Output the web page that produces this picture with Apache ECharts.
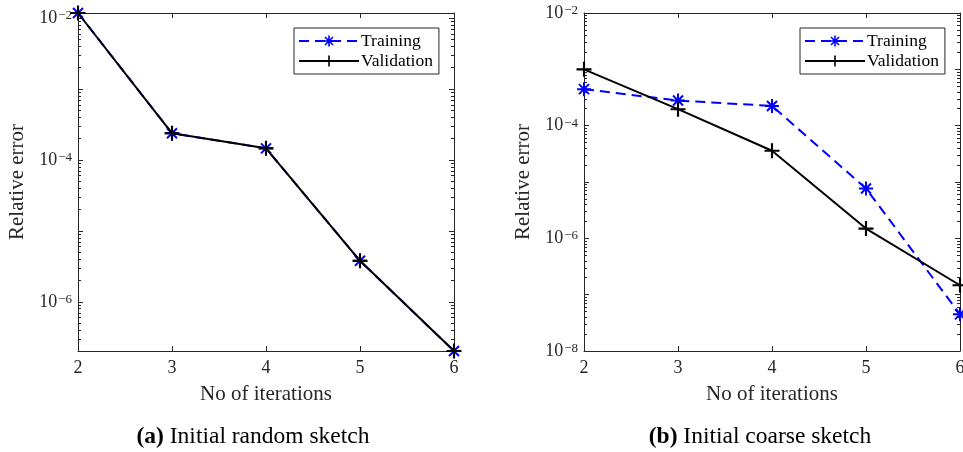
<!DOCTYPE html>
<html>
<head>
<meta charset="utf-8">
<script src="https://cdn.jsdelivr.net/npm/echarts@6/dist/echarts.min.js"></script>
<style>
html,body{margin:0;padding:0;background:#fff;}
#chart{width:963px;height:452px;}
</style>
</head>
<body>
<div id="chart"></div>
<script>
// ---- data ----
var iterations = [2, 3, 4, 5, 6];
var trainA = [1.18e-2, 2.38e-4, 1.46e-4, 3.79e-6, 2.03e-7];
var validA = [1.18e-2, 2.38e-4, 1.46e-4, 3.79e-6, 2.03e-7];
var trainB = [4.45e-4, 2.79e-4, 2.24e-4, 7.69e-6, 4.47e-8];
var validB = [1.0e-3, 1.96e-4, 3.59e-5, 1.49e-6, 1.47e-7];
var seriesNames = ['Training', 'Validation'];
var captions = [['(a)', 'Initial random sketch'], ['(b)', 'Initial coarse sketch']];
var xLabel = 'No of iterations';
var yLabel = 'Relative error';
var minorMultipliers = [2, 3, 4, 5, 6, 7, 8, 9];

var SERIF = '"Liberation Serif","DejaVu Serif",serif';
var AX = '#262626';

var plusPath = 'path://M6,0H8V14H6Z M0,6H14V8H0Z';
var starPath = 'path://M6,0H8V14H6Z M0,6H14V8H0Z M2.7,1.3L12.7,11.3L11.3,12.7L1.3,2.7Z M11.3,1.3L12.7,2.7L2.7,12.7L1.3,11.3Z';

function pairs(xs, ys){ return xs.map(function(x,i){ return [x, ys[i]]; }); }

var grids = [
  {left: 78, top: 13, width: 376, height: 338, legendLeft: 294, capCenter: 248},
  {left: 584, top: 13, width: 376, height: 338, legendLeft: 800, capCenter: 755}
];
var yRanges = [[2.03e-7, 1.18e-2], [1e-8, 1e-2]];

function expFmt(v){
  var l = Math.log10(v);
  var e = Math.round(l);
  if (Math.abs(l - e) > 1e-6) return '';
  if (e % 2 !== 0) return '';
  return '{b|10}{s|' + '\u2212' + Math.abs(e) + '}';
}

var xAxes = [], yAxes = [], series = [], legends = [], titles = [];
var mainYIndex = [];
grids.forEach(function(g, gi){
  xAxes.push({
    type: 'value', gridIndex: gi, min: 2, max: 6, interval: 1, position: 'bottom',
    name: xLabel, nameLocation: 'middle', nameGap: 33,
    nameTextStyle: {fontFamily: SERIF, fontSize: 21, color: AX},
    axisLine: {show: true, onZero: false, lineStyle: {color: AX, width: 1}},
    axisTick: {show: true, inside: true, length: 5, lineStyle: {color: AX}},
    axisLabel: {fontFamily: SERIF, fontSize: 18, color: AX, margin: 8},
    splitLine: {show: false}
  });
  xAxes.push({
    type: 'value', gridIndex: gi, min: 2, max: 6, interval: 1, position: 'top',
    axisLine: {show: true, onZero: false, lineStyle: {color: AX, width: 1}},
    axisTick: {show: true, inside: true, length: 5, lineStyle: {color: AX}},
    axisLabel: {show: false}, splitLine: {show: false}
  });
  mainYIndex.push(yAxes.length);
  yAxes.push({
    type: 'log', logBase: 10, gridIndex: gi, min: yRanges[gi][0], max: yRanges[gi][1], splitNumber: 5,
    position: 'left',
    name: yLabel, nameLocation: 'middle', nameGap: 50, nameRotate: 90,
    nameTextStyle: {fontFamily: SERIF, fontSize: 21, color: AX},
    axisLine: {show: true, onZero: false, lineStyle: {color: AX, width: 1}},
    axisTick: {show: true, inside: true, length: 5, lineStyle: {color: AX}},
    axisLabel: {
      showMinLabel: true, showMaxLabel: true, margin: 6, hideOverlap: false,
      formatter: function(v){ return expFmt(v); },
      rich: {
        b: {fontFamily: SERIF, fontSize: 18, color: AX, verticalAlign: 'bottom', lineHeight: 18},
        s: {fontFamily: SERIF, fontSize: 13, color: AX, verticalAlign: 'top', lineHeight: 13, padding: [0,0,12,1]}
      }
    },
    splitLine: {show: false}
  });
  yAxes.push({
    type: 'log', logBase: 10, gridIndex: gi, min: yRanges[gi][0], max: yRanges[gi][1], splitNumber: 5,
    position: 'right',
    axisLine: {show: true, onZero: false, lineStyle: {color: AX, width: 1}},
    axisTick: {show: true, inside: true, length: 5, lineStyle: {color: AX}},
    axisLabel: {show: false}, splitLine: {show: false}
  });
  // minor log ticks (m x 10^k): axes shifted by factor m, ticks only
  minorMultipliers.forEach(function(m){
    ['left', 'right'].forEach(function(pos){
      yAxes.push({
        type: 'log', logBase: 10, gridIndex: gi,
        min: yRanges[gi][0] / m, max: yRanges[gi][1] / m, splitNumber: 5,
        position: pos, silent: true,
        axisLine: {show: false},
        axisTick: {show: true, inside: true, length: 3, lineStyle: {color: AX}},
        axisLabel: {show: false}, splitLine: {show: false}
      });
    });
  });
  titles.push({
    text: '{b|' + captions[gi][0] + '} ' + captions[gi][1],
    left: g.capCenter, top: 420, textAlign: 'center',
    textStyle: {fontFamily: SERIF, fontSize: 23.5, fontWeight: 'normal', color: '#000',
      rich: {b: {fontFamily: SERIF, fontSize: 23.5, fontWeight: 'bold', color: '#000'}}}
  });
  legends.push({
    data: seriesNames, orient: 'vertical',
    left: g.legendLeft, top: 28,
    padding: [4, 6, 4, 4], itemGap: 2, itemWidth: 60, itemHeight: 14,
    backgroundColor: '#fff', borderColor: AX, borderWidth: 1, borderRadius: 0,
    textStyle: {fontFamily: SERIF, fontSize: 17.5, color: '#000', padding: [0,0,0,-3]},
    selectedMode: false
  });
});

var datasets = [[trainA, validA], [trainB, validB]];
datasets.forEach(function(d, gi){
  series.push({
    name: 'Training', type: 'line', xAxisIndex: gi*2, yAxisIndex: mainYIndex[gi],
    data: pairs(iterations, d[0]),
    symbol: starPath, symbolSize: 14,
    lineStyle: {color: '#0000FF', width: 2, type: [10, 6]},
    itemStyle: {color: '#0000FF'},
    animation: false, z: 2
  });
  series.push({
    name: 'Validation', type: 'line', xAxisIndex: gi*2, yAxisIndex: mainYIndex[gi],
    data: pairs(iterations, d[1]),
    symbol: plusPath, symbolSize: 15,
    lineStyle: {color: '#000', width: 2},
    itemStyle: {color: '#000'},
    animation: false, z: 3
  });
});

var chart = echarts.init(document.getElementById('chart'), null, {renderer: 'canvas'});
chart.setOption({
  backgroundColor: '#fff',
  animation: false,
  title: titles,
  legend: legends,
  grid: grids.map(function(g){ return {left: g.left, top: g.top, width: g.width, height: g.height, containLabel: false, outerBoundsMode: 'none'}; }),
  xAxis: xAxes,
  yAxis: yAxes,
  series: series
});
</script>
</body>
</html>
